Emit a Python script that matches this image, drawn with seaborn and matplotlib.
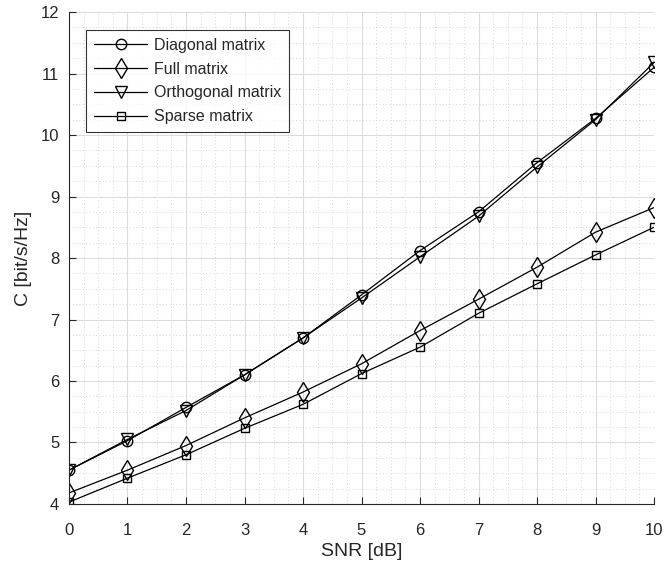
import numpy as np
import pandas as pd
import matplotlib.pyplot as plt
import seaborn as sns
from matplotlib.ticker import MultipleLocator

sns.set_style("ticks")
plt.rcParams['font.family'] = ['Liberation Sans', 'DejaVu Sans']

snr = [0, 1, 2, 3, 4, 5, 6, 7, 8, 9, 10]
diagonal = [4.55, 5.03, 5.57, 6.10, 6.70, 7.40, 8.12, 8.75, 9.55, 10.27, 11.10]
full = [4.18, 4.55, 4.95, 5.40, 5.82, 6.28, 6.82, 7.33, 7.85, 8.42, 8.82]
orthogonal = [4.55, 5.05, 5.52, 6.10, 6.70, 7.35, 8.02, 8.68, 9.48, 10.25, 11.18]
sparse = [4.03, 4.42, 4.80, 5.23, 5.62, 6.12, 6.55, 7.10, 7.58, 8.05, 8.50]

names = ['Diagonal matrix', 'Full matrix', 'Orthogonal matrix', 'Sparse matrix']
markers = ['o', 'd', 'v', 's']
sizes = [7.5, 10.5, 8, 6]

df = pd.DataFrame({
    'SNR': snr * 4,
    'C': diagonal + full + orthogonal + sparse,
    'Matrix': sum([[n] * len(snr) for n in names], []),
})

fig = plt.figure(figsize=(6.66, 5.74), dpi=100)
ax = fig.add_axes([0.1036, 0.122, 0.8784, 0.857])

for name, mk, ms in zip(names, markers, sizes):
    sns.lineplot(data=df[df['Matrix'] == name], x='SNR', y='C', ax=ax,
                 color='black', lw=0.9, marker=mk, markersize=ms,
                 markerfacecolor='none', markeredgecolor='black',
                 markeredgewidth=1.0, label=name)

ax.set_xlim(0, 10)
ax.set_ylim(4, 12)
ax.xaxis.set_major_locator(MultipleLocator(1))
ax.yaxis.set_major_locator(MultipleLocator(1))
ax.xaxis.set_minor_locator(MultipleLocator(0.25))
ax.yaxis.set_minor_locator(MultipleLocator(0.25))
ax.grid(which='major', color='#dcdcdc', lw=0.8, ls='-')
ax.grid(which='minor', color='#c8c8c8', lw=0.6, ls=(0, (1, 3)))
ax.set_axisbelow(True)

for s in ['top', 'right']:
    ax.spines[s].set_visible(False)
for s in ['left', 'bottom']:
    ax.spines[s].set_color('#262626')
    ax.spines[s].set_linewidth(0.8)
ax.tick_params(which='major', direction='in', length=5, width=0.8,
               labelsize=12, colors='#262626')
ax.tick_params(axis='x', which='major', pad=14)
ax.tick_params(axis='y', which='major', pad=7)
ax.tick_params(which='minor', length=0)

ax.set_xlabel('SNR [dB]', fontsize=14, color='#262626', labelpad=3)
ax.set_ylabel('C [bit/s/Hz]', fontsize=14, color='#262626', labelpad=6)

leg = ax.legend(loc='upper left', bbox_to_anchor=(0.016, 0.98), fontsize=11.5,
                handlelength=3.3, frameon=True, fancybox=False,
                borderpad=0.5, labelspacing=0.55, handletextpad=0.45)
leg.get_frame().set_edgecolor('black')
leg.get_frame().set_linewidth(0.8)

fig.savefig('out.png', dpi=100)
